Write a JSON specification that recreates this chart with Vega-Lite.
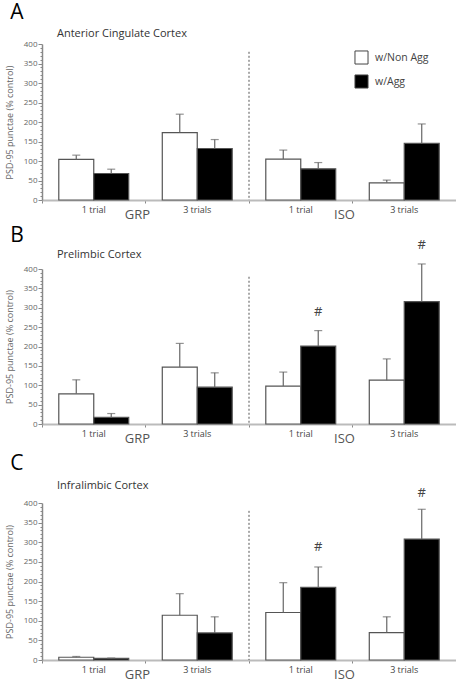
{
  "$schema": "https://vega.github.io/schema/vega-lite/v6.json",
  "padding": {"left": 5, "top": 2, "right": 0, "bottom": 0},
  "datasets": {
    "bars": [
      {"panel": "A", "cond": "GRP 1 trial", "group": "w/Non Agg", "value": 104, "err": 115},
      {"panel": "A", "cond": "GRP 1 trial", "group": "w/Agg", "value": 68, "err": 79},
      {"panel": "A", "cond": "GRP 3 trials", "group": "w/Non Agg", "value": 173, "err": 220},
      {"panel": "A", "cond": "GRP 3 trials", "group": "w/Agg", "value": 132, "err": 155},
      {"panel": "A", "cond": "ISO 1 trial", "group": "w/Non Agg", "value": 105, "err": 128},
      {"panel": "A", "cond": "ISO 1 trial", "group": "w/Agg", "value": 80, "err": 96},
      {"panel": "A", "cond": "ISO 3 trials", "group": "w/Non Agg", "value": 44, "err": 51},
      {"panel": "A", "cond": "ISO 3 trials", "group": "w/Agg", "value": 145, "err": 195},
      {"panel": "B", "cond": "GRP 1 trial", "group": "w/Non Agg", "value": 78, "err": 114},
      {"panel": "B", "cond": "GRP 1 trial", "group": "w/Agg", "value": 17, "err": 27},
      {"panel": "B", "cond": "GRP 3 trials", "group": "w/Non Agg", "value": 147, "err": 208},
      {"panel": "B", "cond": "GRP 3 trials", "group": "w/Agg", "value": 95, "err": 132},
      {"panel": "B", "cond": "ISO 1 trial", "group": "w/Non Agg", "value": 98, "err": 134},
      {"panel": "B", "cond": "ISO 1 trial", "group": "w/Agg", "value": 201, "err": 241},
      {"panel": "B", "cond": "ISO 3 trials", "group": "w/Non Agg", "value": 113, "err": 168},
      {"panel": "B", "cond": "ISO 3 trials", "group": "w/Agg", "value": 316, "err": 413},
      {"panel": "C", "cond": "GRP 1 trial", "group": "w/Non Agg", "value": 7, "err": 9},
      {"panel": "C", "cond": "GRP 1 trial", "group": "w/Agg", "value": 4, "err": 5},
      {"panel": "C", "cond": "GRP 3 trials", "group": "w/Non Agg", "value": 114, "err": 169},
      {"panel": "C", "cond": "GRP 3 trials", "group": "w/Agg", "value": 69, "err": 110},
      {"panel": "C", "cond": "ISO 1 trial", "group": "w/Non Agg", "value": 121, "err": 197},
      {"panel": "C", "cond": "ISO 1 trial", "group": "w/Agg", "value": 185, "err": 237},
      {"panel": "C", "cond": "ISO 3 trials", "group": "w/Non Agg", "value": 70, "err": 110},
      {"panel": "C", "cond": "ISO 3 trials", "group": "w/Agg", "value": 308, "err": 384}
    ],
    "hash": [
      {"panel": "B", "cond": "ISO 1 trial", "group": "w/Agg", "y": 290},
      {"panel": "B", "cond": "ISO 3 trials", "group": "w/Agg", "y": 462},
      {"panel": "C", "cond": "ISO 1 trial", "group": "w/Agg", "y": 289},
      {"panel": "C", "cond": "ISO 3 trials", "group": "w/Agg", "y": 425}
    ],
    "div": [{"cond": "ISO 1 trial", "top": 380}],
    "grp": [{"cond": "GRP 3 trials", "lab": "GRP"}, {"cond": "ISO 3 trials", "lab": "ISO"}]
  },
  "spacing": 2,
  "resolve": {"legend": {"fill": "independent"}},
  "vconcat": [
    {
      "title": {"text": "A", "anchor": "start", "frame": "bounds", "fontSize": 21, "fontWeight": "normal", "color": "#000", "dx": 5, "offset": 5},
      "resolve": {"legend": {"fill": "independent"}},
      "vconcat": [
        {
          "title": {"text": "Anterior Cingulate Cortex", "anchor": "start", "frame": "group", "dx": 15, "fontSize": 11, "fontWeight": "normal", "color": "#333", "offset": 1},
          "width": 414, "height": 156,
          "layer": [
            {"data": {"name": "bars"}, "transform": [{"filter": "datum.panel === 'A'"}],
             "mark": {"type": "bar", "stroke": "#555", "strokeWidth": 1.2},
             "encoding": {
               "x": {"field": "cond", "type": "nominal", "title": null, "scale": {"domain": ["GRP 1 trial", "GRP 3 trials", "ISO 1 trial", "ISO 3 trials"], "paddingInner": 0, "paddingOuter": 0},
                     "axis": {"bandPosition": 0, "labelExpr": "slice(datum.value, 4)", "labelAngle": 0, "labelFontSize": 9, "labelColor": "#444", "labelPadding": 2, "tickSize": 3, "tickColor": "#888", "domainColor": "#bbb", "domainWidth": 2, "labelFlush": false, "labelOverlap": false}},
               "xOffset": {"field": "group", "type": "nominal", "scale": {"domain": ["w/Non Agg", "w/Agg"], "paddingInner": 0, "paddingOuter": 0.48}},
               "y": {"field": "value", "type": "quantitative", "title": "PSD-95 punctae (% control)", "scale": {"domain": [0, 400], "nice": false},
                     "axis": {"tickCount": 40, "labelExpr": "datum.value % 50 === 0 ? datum.label : ''", "tickSize": {"condition": {"test": "datum.value % 50 === 0", "value": 4}, "value": 2}, "labelFontSize": 8, "labelColor": "#666", "labelPadding": 1, "tickColor": "#888", "domainColor": "#888", "domainWidth": 1.5, "titleFontSize": 9, "titleColor": "#666", "titleFontWeight": "normal", "titlePadding": 9, "labelOverlap": false}},
               "fill": {"field": "group", "type": "nominal", "scale": {"domain": ["w/Non Agg", "w/Agg"], "range": ["#ffffff", "#000000"]},
                        "legend": {"orient": "none", "legendX": 312, "legendY": 6, "title": null, "symbolType": "square", "symbolSize": 170, "symbolStrokeColor": "#444", "symbolStrokeWidth": 1, "labelFontSize": 10.5, "labelColor": "#444", "rowPadding": 5, "labelOffset": 6}}
             }},
            {"data": {"name": "bars"}, "transform": [{"filter": "datum.panel === 'A'"}],
             "mark": {"type": "rule", "color": "#666", "strokeWidth": 1.2},
             "encoding": {
               "x": {"field": "cond", "type": "nominal", "title": null, "scale": {"domain": ["GRP 1 trial", "GRP 3 trials", "ISO 1 trial", "ISO 3 trials"], "paddingInner": 0, "paddingOuter": 0}},
               "xOffset": {"field": "group", "type": "nominal", "scale": {"domain": ["w/Non Agg", "w/Agg"], "paddingInner": 0, "paddingOuter": 0.48}},
               "y": {"field": "value", "type": "quantitative", "title": "PSD-95 punctae (% control)", "scale": {"domain": [0, 400], "nice": false}},
               "y2": {"field": "err"}
             }},
            {"data": {"name": "bars"}, "transform": [{"filter": "datum.panel === 'A'"}],
             "mark": {"type": "tick", "color": "#666", "thickness": 1.2, "size": 8, "orient": "horizontal"},
             "encoding": {
               "x": {"field": "cond", "type": "nominal", "title": null, "scale": {"domain": ["GRP 1 trial", "GRP 3 trials", "ISO 1 trial", "ISO 3 trials"], "paddingInner": 0, "paddingOuter": 0}},
               "xOffset": {"field": "group", "type": "nominal", "scale": {"domain": ["w/Non Agg", "w/Agg"], "paddingInner": 0, "paddingOuter": 0.48}},
               "y": {"field": "err", "type": "quantitative", "title": "PSD-95 punctae (% control)", "scale": {"domain": [0, 400], "nice": false}}
             }},
            {"data": {"name": "div"},
             "mark": {"type": "rule", "color": "#555", "strokeDash": [2, 2], "strokeWidth": 1},
             "encoding": {
               "x": {"field": "cond", "type": "nominal", "title": null, "bandPosition": 0, "scale": {"domain": ["GRP 1 trial", "GRP 3 trials", "ISO 1 trial", "ISO 3 trials"], "paddingInner": 0, "paddingOuter": 0}},
               "y": {"field": "top", "type": "quantitative", "title": "PSD-95 punctae (% control)", "scale": {"domain": [0, 400], "nice": false}},
               "y2": {"datum": 0}
             }},
            {"data": {"name": "grp"},
             "mark": {"type": "text", "baseline": "top", "dx": -8, "dy": 9, "fontSize": 13, "color": "#555"},
             "encoding": {
               "x": {"field": "cond", "type": "nominal", "title": null, "bandPosition": 0, "scale": {"domain": ["GRP 1 trial", "GRP 3 trials", "ISO 1 trial", "ISO 3 trials"], "paddingInner": 0, "paddingOuter": 0}},
               "y": {"datum": 0, "type": "quantitative", "title": "PSD-95 punctae (% control)", "scale": {"domain": [0, 400], "nice": false}},
               "text": {"field": "lab"}
             }}
          ]
        }
      ]
    },
    {
      "spacing": 7,
      "resolve": {"legend": {"fill": "independent"}},
      "vconcat": [
        {
          "title": {"text": "B", "anchor": "start", "frame": "bounds", "fontSize": 21, "fontWeight": "normal", "color": "#000", "dx": 5, "offset": -7},
          "resolve": {"legend": {"fill": "independent"}},
          "vconcat": [
            {
              "title": {"text": "Prelimbic Cortex", "anchor": "start", "frame": "group", "dx": 15, "fontSize": 11, "fontWeight": "normal", "color": "#333", "offset": -21},
              "width": 414, "height": 155,
              "layer": [
                {"data": {"name": "bars"}, "transform": [{"filter": "datum.panel === 'B'"}],
                 "mark": {"type": "bar", "stroke": "#555", "strokeWidth": 1.2},
                 "encoding": {
                   "x": {"field": "cond", "type": "nominal", "title": null, "scale": {"domain": ["GRP 1 trial", "GRP 3 trials", "ISO 1 trial", "ISO 3 trials"], "paddingInner": 0, "paddingOuter": 0},
                         "axis": {"bandPosition": 0, "labelExpr": "slice(datum.value, 4)", "labelAngle": 0, "labelFontSize": 9, "labelColor": "#444", "labelPadding": 2, "tickSize": 3, "tickColor": "#888", "domainColor": "#bbb", "domainWidth": 2, "labelFlush": false, "labelOverlap": false}},
                   "xOffset": {"field": "group", "type": "nominal", "scale": {"domain": ["w/Non Agg", "w/Agg"], "paddingInner": 0, "paddingOuter": 0.48}},
                   "y": {"field": "value", "type": "quantitative", "title": "PSD-95 punctae (% control)", "scale": {"domain": [0, 400], "nice": false},
                         "axis": {"tickCount": 40, "labelExpr": "datum.value % 50 === 0 ? datum.label : ''", "tickSize": {"condition": {"test": "datum.value % 50 === 0", "value": 4}, "value": 2}, "labelFontSize": 8, "labelColor": "#666", "labelPadding": 1, "tickColor": "#888", "domainColor": "#888", "domainWidth": 1.5, "titleFontSize": 9, "titleColor": "#666", "titleFontWeight": "normal", "titlePadding": 9, "labelOverlap": false}},
                   "fill": {"field": "group", "type": "nominal", "scale": {"domain": ["w/Non Agg", "w/Agg"], "range": ["#ffffff", "#000000"]}, "legend": null}
                 }},
                {"data": {"name": "bars"}, "transform": [{"filter": "datum.panel === 'B'"}],
                 "mark": {"type": "rule", "color": "#666", "strokeWidth": 1.2},
                 "encoding": {
                   "x": {"field": "cond", "type": "nominal", "title": null, "scale": {"domain": ["GRP 1 trial", "GRP 3 trials", "ISO 1 trial", "ISO 3 trials"], "paddingInner": 0, "paddingOuter": 0}},
                   "xOffset": {"field": "group", "type": "nominal", "scale": {"domain": ["w/Non Agg", "w/Agg"], "paddingInner": 0, "paddingOuter": 0.48}},
                   "y": {"field": "value", "type": "quantitative", "title": "PSD-95 punctae (% control)", "scale": {"domain": [0, 400], "nice": false}},
                   "y2": {"field": "err"}
                 }},
                {"data": {"name": "bars"}, "transform": [{"filter": "datum.panel === 'B'"}],
                 "mark": {"type": "tick", "color": "#666", "thickness": 1.2, "size": 8, "orient": "horizontal"},
                 "encoding": {
                   "x": {"field": "cond", "type": "nominal", "title": null, "scale": {"domain": ["GRP 1 trial", "GRP 3 trials", "ISO 1 trial", "ISO 3 trials"], "paddingInner": 0, "paddingOuter": 0}},
                   "xOffset": {"field": "group", "type": "nominal", "scale": {"domain": ["w/Non Agg", "w/Agg"], "paddingInner": 0, "paddingOuter": 0.48}},
                   "y": {"field": "err", "type": "quantitative", "title": "PSD-95 punctae (% control)", "scale": {"domain": [0, 400], "nice": false}}
                 }},
                {"data": {"name": "hash"}, "transform": [{"filter": "datum.panel === 'B'"}],
                 "mark": {"type": "text", "fontSize": 13, "color": "#444", "baseline": "middle"},
                 "encoding": {
                   "x": {"field": "cond", "type": "nominal", "title": null, "scale": {"domain": ["GRP 1 trial", "GRP 3 trials", "ISO 1 trial", "ISO 3 trials"], "paddingInner": 0, "paddingOuter": 0}},
                   "xOffset": {"field": "group", "type": "nominal", "scale": {"domain": ["w/Non Agg", "w/Agg"], "paddingInner": 0, "paddingOuter": 0.48}},
                   "y": {"field": "y", "type": "quantitative", "title": "PSD-95 punctae (% control)", "scale": {"domain": [0, 400], "nice": false}},
                   "text": {"value": "#"}
                 }},
                {"data": {"name": "div"},
                 "mark": {"type": "rule", "color": "#555", "strokeDash": [2, 2], "strokeWidth": 1},
                 "encoding": {
                   "x": {"field": "cond", "type": "nominal", "title": null, "bandPosition": 0, "scale": {"domain": ["GRP 1 trial", "GRP 3 trials", "ISO 1 trial", "ISO 3 trials"], "paddingInner": 0, "paddingOuter": 0}},
                   "y": {"field": "top", "type": "quantitative", "title": "PSD-95 punctae (% control)", "scale": {"domain": [0, 400], "nice": false}},
                   "y2": {"datum": 0}
                 }},
                {"data": {"name": "grp"},
                 "mark": {"type": "text", "baseline": "top", "dx": -8, "dy": 9, "fontSize": 13, "color": "#555"},
                 "encoding": {
                   "x": {"field": "cond", "type": "nominal", "title": null, "bandPosition": 0, "scale": {"domain": ["GRP 1 trial", "GRP 3 trials", "ISO 1 trial", "ISO 3 trials"], "paddingInner": 0, "paddingOuter": 0}},
                   "y": {"datum": 0, "type": "quantitative", "title": "PSD-95 punctae (% control)", "scale": {"domain": [0, 400], "nice": false}},
                   "text": {"field": "lab"}
                 }}
              ]
            }
          ]
        },
        {
          "title": {"text": "C", "anchor": "start", "frame": "bounds", "fontSize": 21, "fontWeight": "normal", "color": "#000", "dx": 5, "offset": 6},
          "resolve": {"legend": {"fill": "independent"}},
          "vconcat": [
            {
              "title": {"text": "Infralimbic Cortex", "anchor": "start", "frame": "group", "dx": 15, "fontSize": 11, "fontWeight": "normal", "color": "#333", "offset": -4},
              "width": 414, "height": 157,
              "layer": [
                {"data": {"name": "bars"}, "transform": [{"filter": "datum.panel === 'C'"}],
                 "mark": {"type": "bar", "stroke": "#555", "strokeWidth": 1.2},
                 "encoding": {
                   "x": {"field": "cond", "type": "nominal", "title": null, "scale": {"domain": ["GRP 1 trial", "GRP 3 trials", "ISO 1 trial", "ISO 3 trials"], "paddingInner": 0, "paddingOuter": 0},
                         "axis": {"bandPosition": 0, "labelExpr": "slice(datum.value, 4)", "labelAngle": 0, "labelFontSize": 9, "labelColor": "#444", "labelPadding": 2, "tickSize": 3, "tickColor": "#888", "domainColor": "#bbb", "domainWidth": 2, "labelFlush": false, "labelOverlap": false}},
                   "xOffset": {"field": "group", "type": "nominal", "scale": {"domain": ["w/Non Agg", "w/Agg"], "paddingInner": 0, "paddingOuter": 0.48}},
                   "y": {"field": "value", "type": "quantitative", "title": "PSD-95 punctae (% control)", "scale": {"domain": [0, 400], "nice": false},
                         "axis": {"tickCount": 40, "labelExpr": "datum.value % 50 === 0 ? datum.label : ''", "tickSize": {"condition": {"test": "datum.value % 50 === 0", "value": 4}, "value": 2}, "labelFontSize": 8, "labelColor": "#666", "labelPadding": 1, "tickColor": "#888", "domainColor": "#888", "domainWidth": 1.5, "titleFontSize": 9, "titleColor": "#666", "titleFontWeight": "normal", "titlePadding": 9, "labelOverlap": false}},
                   "fill": {"field": "group", "type": "nominal", "scale": {"domain": ["w/Non Agg", "w/Agg"], "range": ["#ffffff", "#000000"]}, "legend": null}
                 }},
                {"data": {"name": "bars"}, "transform": [{"filter": "datum.panel === 'C'"}],
                 "mark": {"type": "rule", "color": "#666", "strokeWidth": 1.2},
                 "encoding": {
                   "x": {"field": "cond", "type": "nominal", "title": null, "scale": {"domain": ["GRP 1 trial", "GRP 3 trials", "ISO 1 trial", "ISO 3 trials"], "paddingInner": 0, "paddingOuter": 0}},
                   "xOffset": {"field": "group", "type": "nominal", "scale": {"domain": ["w/Non Agg", "w/Agg"], "paddingInner": 0, "paddingOuter": 0.48}},
                   "y": {"field": "value", "type": "quantitative", "title": "PSD-95 punctae (% control)", "scale": {"domain": [0, 400], "nice": false}},
                   "y2": {"field": "err"}
                 }},
                {"data": {"name": "bars"}, "transform": [{"filter": "datum.panel === 'C'"}],
                 "mark": {"type": "tick", "color": "#666", "thickness": 1.2, "size": 8, "orient": "horizontal"},
                 "encoding": {
                   "x": {"field": "cond", "type": "nominal", "title": null, "scale": {"domain": ["GRP 1 trial", "GRP 3 trials", "ISO 1 trial", "ISO 3 trials"], "paddingInner": 0, "paddingOuter": 0}},
                   "xOffset": {"field": "group", "type": "nominal", "scale": {"domain": ["w/Non Agg", "w/Agg"], "paddingInner": 0, "paddingOuter": 0.48}},
                   "y": {"field": "err", "type": "quantitative", "title": "PSD-95 punctae (% control)", "scale": {"domain": [0, 400], "nice": false}}
                 }},
                {"data": {"name": "hash"}, "transform": [{"filter": "datum.panel === 'C'"}],
                 "mark": {"type": "text", "fontSize": 13, "color": "#444", "baseline": "middle"},
                 "encoding": {
                   "x": {"field": "cond", "type": "nominal", "title": null, "scale": {"domain": ["GRP 1 trial", "GRP 3 trials", "ISO 1 trial", "ISO 3 trials"], "paddingInner": 0, "paddingOuter": 0}},
                   "xOffset": {"field": "group", "type": "nominal", "scale": {"domain": ["w/Non Agg", "w/Agg"], "paddingInner": 0, "paddingOuter": 0.48}},
                   "y": {"field": "y", "type": "quantitative", "title": "PSD-95 punctae (% control)", "scale": {"domain": [0, 400], "nice": false}},
                   "text": {"value": "#"}
                 }},
                {"data": {"name": "div"},
                 "mark": {"type": "rule", "color": "#555", "strokeDash": [2, 2], "strokeWidth": 1},
                 "encoding": {
                   "x": {"field": "cond", "type": "nominal", "title": null, "bandPosition": 0, "scale": {"domain": ["GRP 1 trial", "GRP 3 trials", "ISO 1 trial", "ISO 3 trials"], "paddingInner": 0, "paddingOuter": 0}},
                   "y": {"field": "top", "type": "quantitative", "title": "PSD-95 punctae (% control)", "scale": {"domain": [0, 400], "nice": false}},
                   "y2": {"datum": 0}
                 }},
                {"data": {"name": "grp"},
                 "mark": {"type": "text", "baseline": "top", "dx": -8, "dy": 9, "fontSize": 13, "color": "#555"},
                 "encoding": {
                   "x": {"field": "cond", "type": "nominal", "title": null, "bandPosition": 0, "scale": {"domain": ["GRP 1 trial", "GRP 3 trials", "ISO 1 trial", "ISO 3 trials"], "paddingInner": 0, "paddingOuter": 0}},
                   "y": {"datum": 0, "type": "quantitative", "title": "PSD-95 punctae (% control)", "scale": {"domain": [0, 400], "nice": false}},
                   "text": {"field": "lab"}
                 }}
              ]
            }
          ]
        }
      ]
    }
  ],
  "config": {
    "font": "Open Sans",
    "view": {"stroke": null},
    "axis": {"grid": false, "labelFont": "Open Sans", "titleFont": "Open Sans"},
    "title": {"font": "Open Sans", "fontWeight": "normal"},
    "legend": {"labelFont": "Open Sans"}
  }
}
